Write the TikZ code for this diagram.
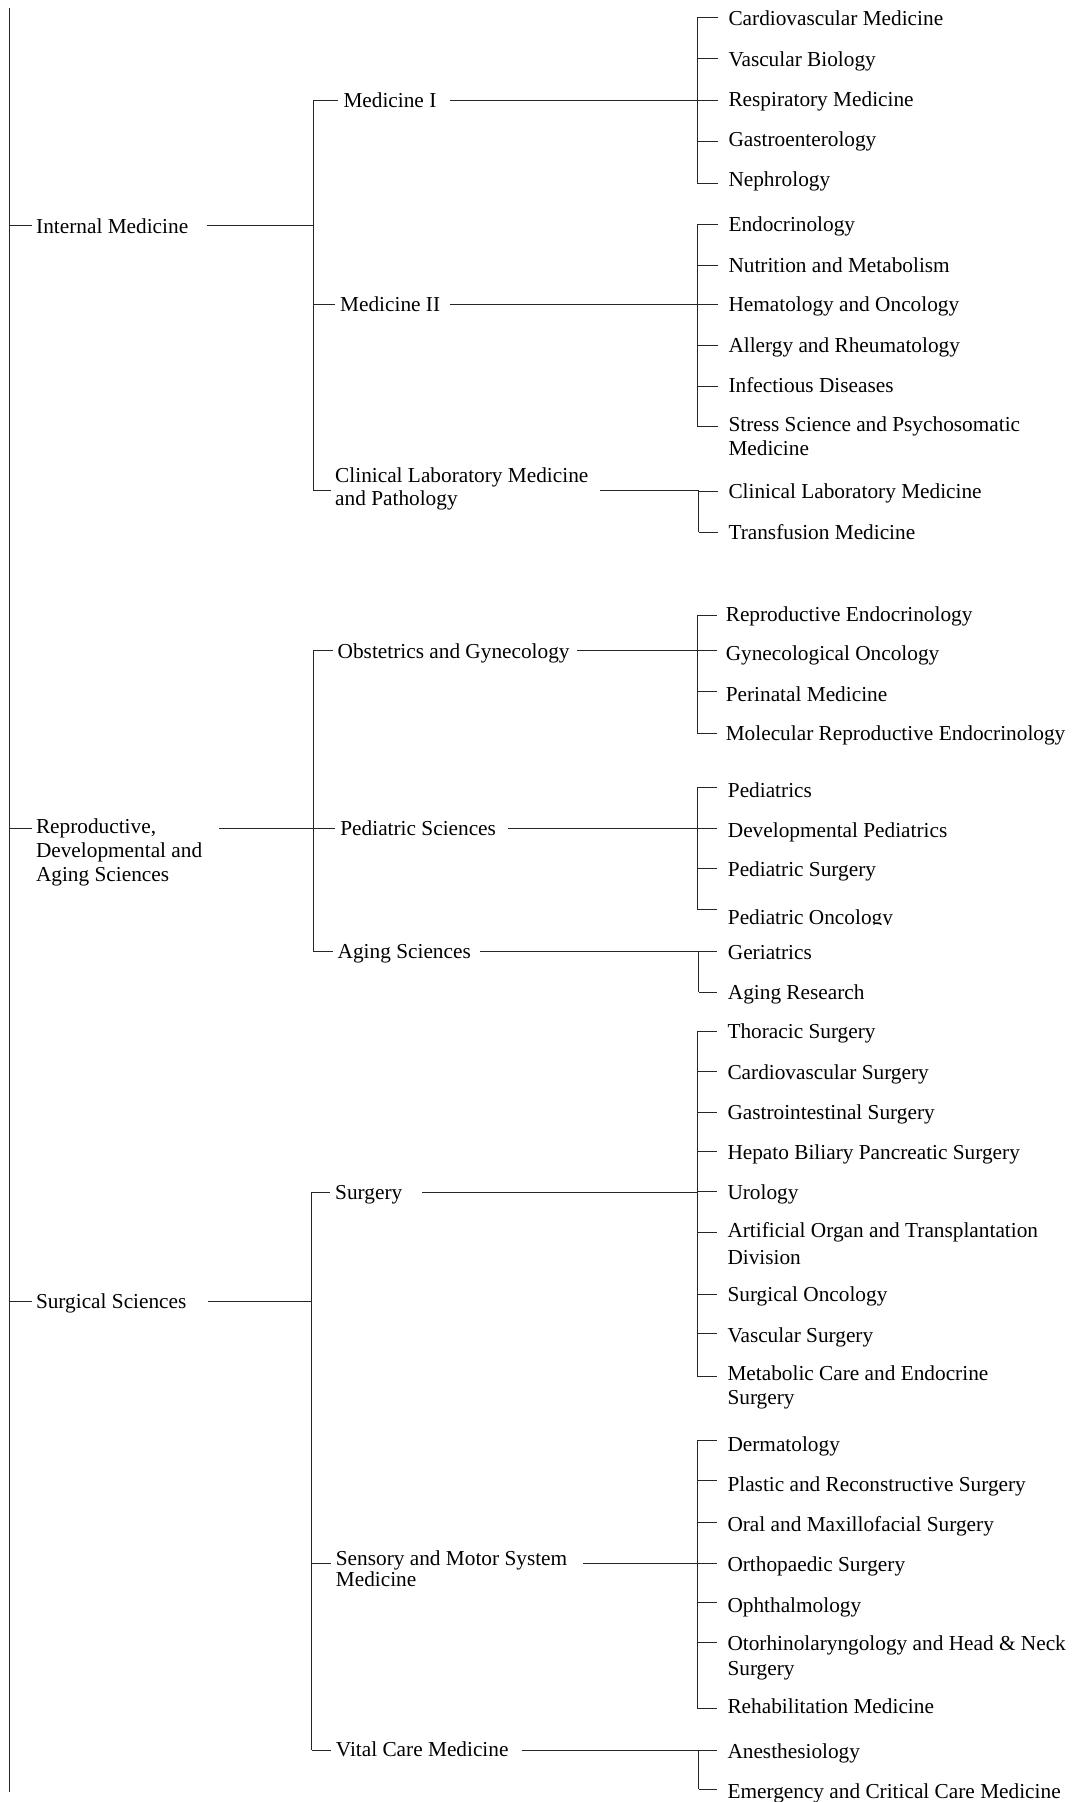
\documentclass[tikz,border=0pt]{standalone}
\usepackage{fontspec}
\setmainfont{Liberation Serif}
\usetikzlibrary{calc}
\newcommand\mystrut{\rule{0pt}{16.8pt}}
\tikzset{
  lbl/.style={anchor=north west, inner sep=0pt, align=left, text=black,
    font=\fontsize{21.3}{23.5}\selectfont, execute at begin node=\mystrut},
  conn/.style={draw=black!85, line width=1pt},
}
% #1 opts, #2 name, #3 x, #4 first-line y, #5 tick dy (12 = tick on first line), #6 gap, #7 bar coord, #8 text
\newcommand\mknode[8][]{%
  \node[lbl,#1] (#2) at (#3,#4-9.7) {#8};
  \coordinate (#2-t) at ($(#2.north west)+(-#6,#5-2.3)$);
  \draw[conn] (#2-t) -- (#2-t -| #7);
}
% #1 name, #2 gap, #3 dy, #4 bar
\newcommand\outline[4]{%
  \coordinate (#1-o) at ($(#1.north east)+(#2,#3-2.3)$);
  \draw[conn] (#1-o) -- (#1-o -| #4);
}
\newcommand\mkbar[3]{\draw[conn] (#1-t -| #3) -- (#2-t -| #3);}
\begin{document}
\begin{tikzpicture}[x=1pt,y=-1pt]
\useasboundingbox[fill=white] (0,0) rectangle (1079,1802);
% main bar
\coordinate (mtop) at (9,8.3);
\coordinate (mbot) at (9,1792);
\draw[conn] (mtop) -- (mbot);

% bars for level 2
\coordinate (bIM) at (313.3,0);
\coordinate (bRD) at (313.3,0);
\coordinate (bSS) at (311.6,0);
% bars for level 3
\coordinate (bM1) at (697.3,0);
\coordinate (bM2) at (697.3,0);
\coordinate (bCL) at (698.5,0);
\coordinate (bOB) at (697.3,0);
\coordinate (bPS) at (697.3,0);
\coordinate (bAS) at (698.5,0);
\coordinate (bSU) at (697.3,0);
\coordinate (bSM) at (697.3,0);
\coordinate (bVC) at (698.5,0);

% level 1
\mknode{im}{36}{225.7}{12}{4.3}{mtop}{Internal Medicine}
\mknode[font=\fontsize{21.3}{23.6}\selectfont]{rd}{35.8}{828.7}{12}{4.3}{mtop}{Reproductive,\\Developmental and\\Aging Sciences}
\mknode{ss}{35.8}{1301}{12.3}{4.3}{mtop}{Surgical Sciences}
\outline{im}{18.3}{12}{bIM}
\outline{rd}{17}{12}{bRD}
\outline{ss}{21}{12.3}{bSS}

% level 2 : Internal Medicine
\mknode{m1}{343.3}{100}{12}{5}{bIM}{Medicine I}
\mknode{m2}{340}{304.3}{12}{5}{bIM}{Medicine II}
\mknode[font=\fontsize{21.3}{23}\selectfont]{clp}{335}{477.3}{25.4}{4}{bIM}{Clinical Laboratory Medicine\\and Pathology}
\mkbar{m1}{clp}{bIM}
\outline{m1}{13.3}{12}{bM1}
\outline{m2}{9.3}{12}{bM2}
\outline{clp}{11}{25.4}{bCL}

% level 2 : Reproductive
\mknode{ob}{337.5}{651}{11.7}{5}{bRD}{Obstetrics and Gynecology}
\mknode{ps}{340.2}{828}{12.7}{5}{bRD}{Pediatric Sciences}
\mknode{as}{337.5}{951.3}{11.7}{5}{bRD}{Aging Sciences}
\mkbar{ob}{as}{bRD}
\outline{ob}{7}{11.7}{bOB}
\outline{ps}{12}{12.7}{bPS}
\outline{as}{8.6}{11.7}{bAS}

% level 2 : Surgical
\mknode{su}{335}{1192}{12}{5}{bSS}{Surgery}
\mknode[font=\fontsize{21.3}{20.8}\selectfont]{sm}{335.7}{1560.5}{14.8}{5}{bSS}{Sensory and Motor System\\Medicine}
\mknode{vc}{335.7}{1748.8}{13.2}{5}{bSS}{Vital Care Medicine}
\mkbar{su}{vc}{bSS}
\outline{su}{19.8}{12}{bSU}
\outline{sm}{15.5}{14.8}{bSM}
\outline{vc}{13}{13.2}{bVC}

% level 3 : Medicine I
\mknode{a1}{728.3}{18.2}{11.5}{10.5}{bM1}{Cardiovascular Medicine}
\mknode{a2}{728.3}{58.8}{11.5}{10.5}{bM1}{Vascular Biology}
\mknode{a3}{728.3}{99}{13}{10.5}{bM1}{Respiratory Medicine}
\mknode{a4}{728.3}{138.8}{14.2}{10.5}{bM1}{Gastroenterology}
\mknode{a5}{728.3}{178.8}{16.2}{10.5}{bM1}{Nephrology}
\mkbar{a1}{a5}{bM1}

% level 3 : Medicine II
\mknode{b1}{728.3}{224.5}{11.5}{10.5}{bM2}{Endocrinology}
\mknode{b2}{728.3}{264.8}{12.2}{10.5}{bM2}{Nutrition and Metabolism}
\mknode{b3}{728.3}{304.5}{11.8}{10.5}{bM2}{Hematology and Oncology}
\mknode{b4}{728.3}{345.5}{12.2}{10.5}{bM2}{Allergy and Rheumatology}
\mknode{b5}{728.3}{385.5}{12.5}{10.5}{bM2}{Infectious Diseases}
\mknode[font=\fontsize{21.3}{24.3}\selectfont]{b6}{728.3}{426.2}{12.5}{10.5}{bM2}{Stress Science and Psychosomatic\\Medicine}
\mkbar{b1}{b6}{bM2}

% level 3 : Clinical Laboratory
\mknode{c1}{728.3}{490.8}{12.2}{10.5}{bCL}{Clinical Laboratory Medicine}
\mknode{c2}{728.3}{532.1}{12}{10.5}{bCL}{Transfusion Medicine}
\mkbar{c1}{c2}{bCL}

% level 3 : Obstetrics
\mknode{d1}{725.6}{614.2}{12.8}{8.5}{bOB}{Reproductive Endocrinology}
\mknode{d2}{725.6}{653.3}{9.4}{8.5}{bOB}{Gynecological Oncology}
\mknode{d3}{725.6}{693.8}{9.2}{8.5}{bOB}{Perinatal Medicine}
\mknode{d4}{725.6}{733.3}{12}{8.5}{bOB}{Molecular Reproductive Endocrinology}
\mkbar{d1}{d4}{bOB}

% level 3 : Pediatric
\mknode{e1}{727.7}{790}{9.7}{10.5}{bPS}{Pediatrics}
\mknode{e2}{727.7}{829.8}{10.9}{10.5}{bPS}{Developmental Pediatrics}
\mknode{e3}{727.7}{869.2}{11.1}{10.5}{bPS}{Pediatric Surgery}
\begin{scope}
  \clip (700,880) rectangle (1000,924.3);
  \node[lbl] (e4) at (727.7,917.2-9.7) {Pediatric Oncology};
\end{scope}
\coordinate (e4-t) at ($(e4.north west)+(-10.5,3.8-2.3)$);
\draw[conn] (e4-t) -- (e4-t -| bPS);
\mkbar{e1}{e4}{bPS}

% level 3 : Aging
\mknode{f1}{727.7}{951.7}{12}{10.5}{bAS}{Geriatrics}
\mknode{f2}{727.7}{992.2}{12}{10.5}{bAS}{Aging Research}
\mkbar{f1}{f2}{bAS}

% level 3 : Surgery
\mknode{g1}{727.3}{1031.6}{12}{10.5}{bSU}{Thoracic Surgery}
\mknode{g2}{727.3}{1071.7}{12}{10.5}{bSU}{Cardiovascular Surgery}
\mknode{g3}{727.3}{1111.8}{12.5}{10.5}{bSU}{Gastrointestinal Surgery}
\mknode{g4}{727.3}{1151.8}{12}{10.5}{bSU}{Hepato Biliary Pancreatic Surgery}
\mknode{g5}{727.3}{1191.8}{12}{10.5}{bSU}{Urology}
\mknode[font=\fontsize{21.3}{26.5}\selectfont]{g6}{727.3}{1232.2}{12}{10.5}{bSU}{Artificial Organ and Transplantation\\Division}
\mknode{g7}{727.3}{1293.8}{12.2}{10.5}{bSU}{Surgical Oncology}
\mknode{g8}{727.3}{1335}{10.3}{10.5}{bSU}{Vascular Surgery}
\mknode[font=\fontsize{21.3}{24.5}\selectfont]{g9}{727.3}{1375}{13}{10.5}{bSU}{Metabolic Care and Endocrine\\Surgery}
\mkbar{g1}{g9}{bSU}

% level 3 : Sensory and Motor
\mknode{h1}{727.3}{1444.5}{8.2}{10.5}{bSM}{Dermatology}
\mknode{h2}{727.3}{1483.8}{8.2}{10.5}{bSM}{Plastic and Reconstructive Surgery}
\mknode{h3}{727.3}{1524.2}{10.1}{10.5}{bSM}{Oral and Maxillofacial Surgery}
\mknode{h4}{727.3}{1564.2}{11.1}{10.5}{bSM}{Orthopaedic Surgery}
\mknode{h5}{727.3}{1605}{9.7}{10.5}{bSM}{Ophthalmology}
\mknode[font=\fontsize{21.3}{25.3}\selectfont]{h6}{727.3}{1645}{9.7}{10.5}{bSM}{Otorhinolaryngology and Head \& Neck\\Surgery}
\mknode{h7}{727.3}{1706.2}{14.1}{10.5}{bSM}{Rehabilitation Medicine}
\mkbar{h1}{h7}{bSM}

% level 3 : Vital Care
\mknode{k1}{727.3}{1750.8}{11.2}{10.5}{bVC}{Anesthesiology}
\mknode{k2}{727.3}{1790.8}{10.5}{10.5}{bVC}{Emergency and Critical Care Medicine}
\mkbar{k1}{k2}{bVC}
\end{tikzpicture}
\end{document}
